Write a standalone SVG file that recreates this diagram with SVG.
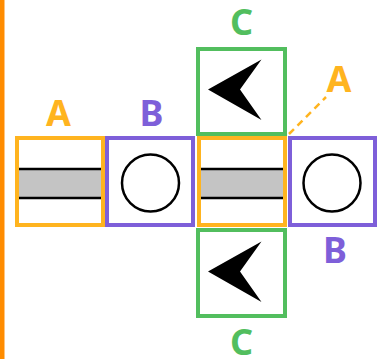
<svg xmlns="http://www.w3.org/2000/svg" width="387" height="359" viewBox="0 0 387 359">
  <style>
    .cell { fill: #ffffff; stroke-width: 4; }
    .ca { stroke: #FFB41F; }
    .cb { stroke: #7E5FD9; }
    .cc { stroke: #52BE5E; }
    .lbl { font-family: "Noto Sans", "DejaVu Sans", sans-serif; font-weight: 700; font-size: 36px; text-anchor: middle; }
    .la { fill: #FFB41F; }
    .lb { fill: #7E5FD9; }
    .lc { fill: #52BE5E; }
    .bar { fill: #C4C4C4; }
    .edge { stroke: #000000; stroke-width: 2.5; }
    .ring { fill: #ffffff; stroke: #000000; stroke-width: 2.5; }
    .chev { fill: #000000; }
  </style>
  <defs>
    <path id="chevron" class="chev" d="M0,0 L53.5,-30 L32,0 L53.5,30.5 Z"/>
  </defs>

  <rect x="0" y="0" width="387" height="359" fill="#ffffff"/>
  <!-- side rail -->
  <rect x="0" y="0" width="4.5" height="359" fill="#FF8C00"/>

  <!-- top C cell -->
  <g id="c-top">
    <rect class="cell cc" x="198" y="49" width="87" height="85"/>
    <use href="#chevron" x="208" y="89.5"/>
    <text class="lbl lc" x="241.5" y="35">C</text>
  </g>

  <!-- bottom C cell -->
  <g id="c-bottom">
    <rect class="cell cc" x="198" y="230" width="87" height="86"/>
    <use href="#chevron" x="208" y="271.5"/>
    <text class="lbl lc" x="241.5" y="355">C</text>
  </g>

  <!-- left A cell -->
  <g id="a-left">
    <rect class="cell ca" x="17" y="138" width="86" height="87"/>
    <rect class="bar" x="19" y="169" width="82" height="29"/>
    <line class="edge" x1="19" y1="169" x2="101" y2="169"/>
    <line class="edge" x1="19" y1="198" x2="101" y2="198"/>
    <text class="lbl la" x="58.5" y="126">A</text>
  </g>

  <!-- left B cell -->
  <g id="b-left">
    <rect class="cell cb" x="107" y="138" width="86" height="87"/>
    <circle class="ring" cx="150.5" cy="183" r="28.5"/>
    <text class="lbl lb" x="151.5" y="126">B</text>
  </g>

  <!-- right B cell -->
  <g id="b-right">
    <rect class="cell cb" x="290" y="138" width="85" height="87"/>
    <circle class="ring" cx="332" cy="183" r="28.5"/>
    <text class="lbl lb" x="335" y="262.5">B</text>
  </g>

  <!-- middle A cell -->
  <g id="a-mid">
    <rect class="cell ca" x="199" y="138" width="86" height="87"/>
    <rect class="bar" x="201" y="169" width="82" height="29"/>
    <line class="edge" x1="201" y1="169" x2="283" y2="169"/>
    <line class="edge" x1="201" y1="198" x2="283" y2="198"/>
    <text class="lbl la" x="339" y="91.5">A</text>
  </g>

  <!-- connectors -->
  <g id="connectors">
    <line x1="289" y1="134" x2="326" y2="97" stroke="#FFB41F" stroke-width="2.5" stroke-dasharray="7 5"/>
  </g>
</svg>
